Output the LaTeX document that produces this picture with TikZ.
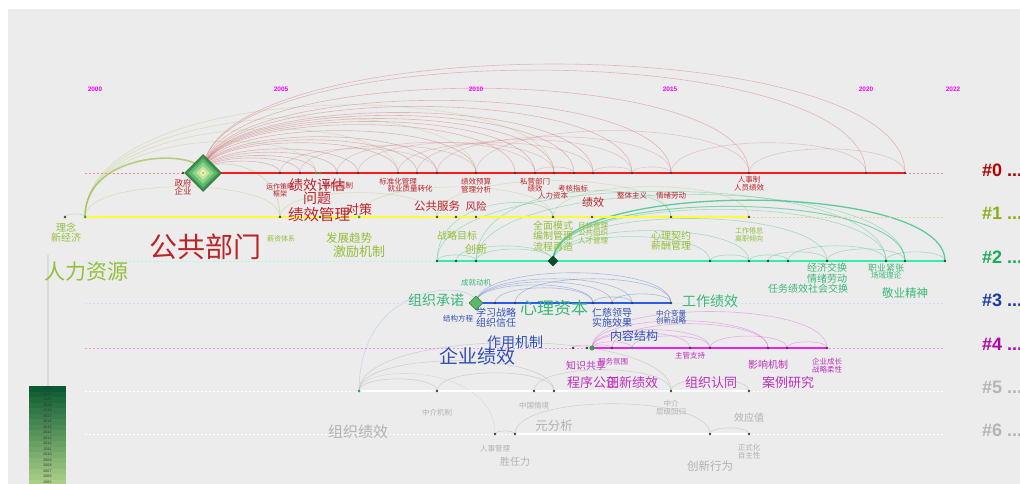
\documentclass[tikz,border=0pt]{standalone}
\usepackage{fontspec}
\setmainfont{Noto Sans CJK SC}
\newfontfamily\lib{Liberation Sans}
\usetikzlibrary{shapes.geometric,calc}
\definecolor{bg}{HTML}{ECECEC}
\definecolor{c0t}{HTML}{BC242A}
\definecolor{c1t}{HTML}{95BE3A}
\definecolor{c2t}{HTML}{3CB878}
\definecolor{c3t}{HTML}{3050B4}
\definecolor{c4t}{HTML}{C030C0}
\definecolor{c5t}{HTML}{B2B2B2}
\definecolor{r0}{HTML}{B00000}
\definecolor{r1}{HTML}{8AAE1A}
\definecolor{r2}{HTML}{1AAA5A}
\definecolor{r3}{HTML}{1A3AAA}
\definecolor{r4}{HTML}{B000B0}
\definecolor{r5}{HTML}{B4B4B4}
\definecolor{c0l}{HTML}{FF1A1A}
\definecolor{c1l}{HTML}{FFFF30}
\definecolor{c2l}{HTML}{30F0A8}
\definecolor{c3l}{HTML}{2A5CF0}
\definecolor{c4l}{HTML}{F020F0}
\definecolor{c0a}{HTML}{C02830}
\definecolor{c1a}{HTML}{A0C050}
\definecolor{c2a}{HTML}{30C080}
\definecolor{c3a}{HTML}{5070D0}
\definecolor{c4a}{HTML}{E050E0}
\definecolor{c5a}{HTML}{BEBEBE}
\definecolor{dotc}{HTML}{404040}
\definecolor{gdc}{HTML}{2EA050}
\definecolor{yr}{HTML}{FF00FF}
\definecolor{legdark}{HTML}{0B5A32}
\definecolor{leglight}{HTML}{D8F0A0}
\definecolor{dg1}{HTML}{3A8E4C}
\definecolor{dg2}{HTML}{5DB86A}
\definecolor{dg3}{HTML}{8FD08A}
\definecolor{dg4}{HTML}{C0E6A0}
\definecolor{dg5}{HTML}{E8F5B0}
\newcommand\fsz[1]{\fontsize{#1}{#1}\selectfont}
\newcommand\fszl[2]{\fontsize{#1}{#2}\selectfont}
\newcommand\lk[3][]{\draw[#1] let \p1=(#2), \p2=(#3), \n1={max(\y1,\y2)+0.207*abs(\x2-\x1)} in (\p1) .. controls (\x1,\n1) and (\x2,\n1) .. (\p2);}
\tikzset{
  lab/.style={inner sep=0pt, align=center},
  t0/.style={lab,text=c0t}, t1/.style={lab,text=c1t}, t2/.style={lab,text=c2t},
  t3/.style={lab,text=c3t}, t4/.style={lab,text=c4t}, t5/.style={lab,text=c5t},
  dotn/.style={circle, fill=dotc, inner sep=0pt, minimum size=2.6},
  gdot/.style={circle, fill=gdc, inner sep=0pt, minimum size=3},
  a0/.style={draw=c0a, draw opacity=.28, line width=.6},
  a1/.style={draw=c1a, draw opacity=.4, line width=.6},
  a2/.style={draw=c2a, draw opacity=.38, line width=.6},
  a3/.style={draw=c3a, draw opacity=.4, line width=.6},
  a4/.style={draw=c4a, draw opacity=.4, line width=.6},
  a5/.style={draw=c5a, draw opacity=.6, line width=.6},
  dl/.style={dash pattern=on 2pt off 2pt, line width=.6},
  rlab/.style={inner sep=0pt, anchor=west, font=\lib\bfseries\fsz{18}},
  yrlab/.style={inner sep=0pt, text=yr, font=\lib\bfseries\fsz{6.5}},
  dia/.style={diamond, aspect=1, inner sep=0pt},
}
\begin{document}
\begin{tikzpicture}[x=1pt,y=-1pt]
\useasboundingbox (0,0) rectangle (1020,484);
\fill[bg] (8,9) rectangle (1020,484);
% coordinates
\foreach \x in {183,203,280,300,316,320,337,358,398,417,437,476,515,535,554,574,593,632,671,749,866,905} \coordinate (p0-\x) at (\x,173);
\foreach \x in {65,85,280,320,359,437,456,476,553,592,671,749} \coordinate (p1-\x) at (\x,217);
\foreach \x in {437,456,476,553,710,749,768,788,827,886,905,945} \coordinate (p2-\x) at (\x,261);
\foreach \x in {476,495,515,593,612,632,671} \coordinate (p3-\x) at (\x,303);
\foreach \x in {573,587,592,612,632,690,710,768,787,827} \coordinate (p4-\x) at (\x,348);
\foreach \x in {359,437,534,554,671,749} \coordinate (p5-\x) at (\x,391);
\foreach \x in {495,515,710,749} \coordinate (p6-\x) at (\x,434);
\foreach \r/\y in {0/173,1/217,2/261,3/303,4/348,5/391,6/434} {\coordinate (L\r) at (85,\y); \coordinate (R\r) at (945,\y);}
\coordinate (vt) at (48,255); \coordinate (vb) at (48,386);
% legend stem
\draw[draw=black!14, line width=1.8] (vt) -- (vb);
% arcs row 0
\foreach \b in {280,300,316,337,358,398,417,437,476,515,535,554,574,593,632,671,749,866,905} {\lk[a0]{p0-203}{p0-\b}}
\foreach \a/\b in {280/437,300/476,337/535,358/554,398/593,417/632,437/671,476/749,593/632,671/866,749/905,632/671,535/574} {\lk[a0,draw opacity=.2]{p0-\a}{p0-\b}}
% arcs row 1 / cross
\lk[a1,line width=1.6,draw opacity=.7]{p1-85}{p0-203}
\foreach \b in {316,398,476,554} {\lk[a1,draw opacity=.3]{p1-85}{p0-\b}}
\lk[a1]{p1-65}{p1-85}
\lk[a1]{p0-203}{p1-280}
\foreach \a/\b in {280/437,359/553,437/671,553/749,320/359,85/280} {\lk[a1,draw opacity=.3]{p1-\a}{p1-\b}}
% arcs row 2
\lk[a2,line width=1.3,draw opacity=.75]{p2-553}{p2-945}
\lk[a2,line width=1,draw opacity=.55]{p2-553}{p2-905}
\foreach \b in {710,749,827,886} {\lk[a2]{p2-553}{p2-\b}}
\foreach \a/\b in {437/476,456/553,437/886,476/905,710/749,749/788,768/827,788/886,827/905,886/945,476/553} {\lk[a2]{p2-\a}{p2-\b}}
\lk[a2]{p2-437}{p1-553}
\lk[a2]{p2-476}{p1-671}
% arcs row 3
\foreach \b in {593,612,632,671} {\lk[a3]{p3-476}{p3-\b}}
\foreach \a/\b in {495/593,515/671,593/632,612/671} {\lk[a3]{p3-\a}{p3-\b}}
\lk[a3,draw opacity=.2]{p5-359}{p3-476}
% arcs row 4
\foreach \b in {612,632,690,710,768,827} {\lk[a4]{p4-592}{p4-\b}}
\foreach \a/\b in {632/710,710/787,787/827,612/768,573/592} {\lk[a4]{p4-\a}{p4-\b}}
% arcs rows 5 and 6
\foreach \b in {437,554,671} {\lk[a5]{p5-359}{p5-\b}}
\foreach \a/\b in {437/554,534/671,671/749} {\lk[a5]{p5-\a}{p5-\b}}
\foreach \a/\b in {495/515,515/710,710/749} {\lk[a5]{p6-\a}{p6-\b}}
\lk[a5,draw opacity=.35]{p6-495}{p5-359}
% dashed guide lines
\draw[dl, draw=c0l!50] (L0) -- (R0);
\draw[dl, draw=c1l!70!black!50] (L1) -- (R1);
\draw[dl, draw=c2l!40] (L2) -- (R2);
\draw[dl, draw=c3l!20] (L3) -- (R3);
\draw[dl, draw=c4l!50] (L4) -- (R4);
\draw[dl, draw=white] (L5) -- (R5);
\draw[dl, draw=white] (L6) -- (R6);
% timelines
\draw[line width=2, draw=c0l] (p0-203) -- (p0-905);
\draw[line width=2.4, draw=c1l] (p1-85) -- (p1-749);
\draw[line width=2.4, draw=c2l] (p2-437) -- (p2-945);
\draw[line width=2, draw=c3l] (p3-476) -- (p3-671);
\draw[line width=2, draw=c4l] (p4-592) -- (p4-827);
\draw[line width=2.4, draw=white] (p5-359) -- (p5-749);
\draw[line width=2.4, draw=white] (p6-515) -- (p6-749);
% dots
\foreach \x in {183,280,300,337,358,398,417,437,476,515,535,554,574,593,632,671,749,866,905} \node[dotn] at (p0-\x) {};
\foreach \x in {316,320} \node[gdot] at (p0-\x) {};
\foreach \x in {65,280,320,437,456,476,553,592,671,749} \node[dotn] at (p1-\x) {};
\foreach \x in {85,359} \node[gdot] at (p1-\x) {};
\foreach \x in {437,456,476,710,749,768,788,827,886,905,945} \node[dotn] at (p2-\x) {};
\foreach \x in {495,515,593,612,632,671} \node[dotn] at (p3-\x) {};
\foreach \x in {573,587,612,690,710,768,787,827} \node[dotn] at (p4-\x) {};
\node[gdot, minimum size=5] at (p4-592) {};
\node[gdot] at (p4-632) {};
\foreach \x in {437,534,554,671,749} \node[dotn] at (p5-\x) {};
\node[gdot] at (p5-359) {};
\foreach \x in {495,515,710,749} \node[dotn] at (p6-\x) {};
% diamonds
\node[dia, minimum size=37, fill=dg1, draw=dg1!70!black, line width=.5] (d0) at (p0-203) {};
\node[dia, minimum size=30, fill=dg2] (d0b) at (p0-203) {};
\node[dia, minimum size=22, fill=dg3] (d0c) at (p0-203) {};
\node[dia, minimum size=14, fill=dg4] (d0d) at (p0-203) {};
\node[dia, minimum size=7, fill=dg5] (d0e) at (p0-203) {};
\node[circle, fill=c0l, inner sep=0pt, minimum size=1.5] (d0f) at (p0-203) {};
\node[dia, minimum size=11, fill=legdark!85!black] (d2) at (p2-553) {};
\node[dia, minimum size=14, fill=dg2, draw=dg1, line width=.6] (d3) at (p3-476) {};
% year labels
\node[yrlab] (y00) at (95,89) {2000};
\node[yrlab] (y05) at (281,89) {2005};
\node[yrlab] (y10) at (476,89) {2010};
\node[yrlab] (y15) at (670,89) {2015};
\node[yrlab] (y20) at (866,89) {2020};
\node[yrlab] (y22) at (953,89) {2022};
% cluster labels right
\node[rlab, text=r0] (k0) at (982,170) {\#0 ...};
\node[rlab, text=r1] (k1) at (982,213) {\#1 ...};
\node[rlab, text=r2] (k2) at (982,257) {\#2 ...};
\node[rlab, text=r3] (k3) at (982,300) {\#3 ...};
\node[rlab, text=r4] (k4) at (982,344) {\#4 ...};
\node[rlab, text=r5] (k5) at (982,387) {\#5 ...};
\node[rlab, text=r5] (k6) at (982,430) {\#6 ...};
% legend bar
\foreach \i in {0,...,17} {
  \pgfmathtruncatemacro\pc{100-\i*100/22}
  \pgfmathtruncatemacro\yy{2022-\i}
  \fill[legdark!\pc!leglight] (29,{386+\i*5.5}) rectangle (66,{386+(\i+1)*5.5});
  \node[inner sep=0pt, font=\lib\fsz{3.6}, text=black!80] (leg\i) at (47.5,{386+\i*5.5+2.75}) {\yy};
}
% labels cluster 0
\node[t0, font=\fszl{8.5}{8}] (l01) at (183,187) {政府\\企业};
\node[t0, font=\fszl{7}{7}] (l02) at (280,190) {运作策略\\框架};
\node[t0, font=\fsz{14}] (l03) at (317,185) {绩效评估};
\node[t0, font=\fsz{14}] (l04) at (317,198) {问题};
\node[t0, font=\fsz{7.5}] (l05) at (338,186) {协同机制};
\node[t0, font=\fsz{7.5}] (l06) at (398,182) {标准化管理};
\node[t0, font=\fsz{7.5}] (l07) at (410,189) {就业质量转化};
\node[t0, font=\fszl{7.5}{8}] (l08) at (476,186) {绩效预算\\管理分析};
\node[t0, font=\fszl{7.5}{7}] (l09) at (535,185) {私营部门\\绩效};
\node[t0, font=\fsz{7.5}] (l10) at (553,196) {人力资本};
\node[t0, font=\fsz{7.5}] (l11) at (573,189) {考核指标};
\node[t0, font=\fsz{11}] (l12) at (593,202) {绩效};
\node[t0, font=\fsz{7.5}] (l13) at (632,196) {整体主义};
\node[t0, font=\fsz{7.5}] (l14) at (671,196) {情绪劳动};
\node[t0, font=\fszl{7.5}{8}] (l15) at (749,184) {人事制\\人员绩效};
\node[t0, font=\fsz{15.5}] (l16) at (319,215) {绩效管理};
\node[t0, font=\fsz{13}] (l17) at (359,210) {对策};
\node[t0, font=\fsz{11.5}] (l18) at (437,206) {公共服务};
\node[t0, font=\fsz{10.5}] (l19) at (476,206) {风险};
\node[t0, font=\fsz{28}] (l20) at (205,247) {公共部门};
% labels cluster 1
\node[t1, font=\fsz{10}] (m01) at (66,227) {理念};
\node[t1, font=\fsz{10}] (m02) at (66,238) {新经济};
\node[t1, font=\fsz{21}] (m03) at (86,272) {人力资源};
\node[t1, font=\fsz{7}] (m04) at (281,239) {薪资体系};
\node[t1, font=\fsz{11.5}] (m05) at (349,238) {发展趋势};
\node[t1, font=\fsz{13}] (m06) at (359,252) {激励机制};
\node[t1, font=\fsz{10}] (m07) at (457,236) {战略目标};
\node[t1, font=\fsz{11}] (m08) at (476,249) {创新};
\node[t1, font=\fszl{10}{10.5}] (m09) at (553,236) {全面模式\\编制管理\\流程再造};
\node[t1, font=\fszl{7.5}{7.5}] (m10) at (593,233) {目标管理\\公共组织\\人才管理};
\node[t1, font=\fszl{10}{10}] (m11) at (671,241) {心理契约\\薪酬管理};
\node[t1, font=\fszl{7}{8}] (m12) at (749,235) {工作倦怠\\离职倾向};
% labels cluster 2
\node[t2, font=\fsz{7.5}] (n01) at (476,283) {成就动机};
\node[t2, font=\fsz{14}] (n02) at (436,300) {组织承诺};
\node[t2, font=\fsz{17}] (n03) at (554,308) {心理资本};
\node[t2, font=\fsz{14}] (n04) at (710,301) {工作绩效};
\node[t2, font=\fsz{10}] (n05) at (827,268) {经济交换};
\node[t2, font=\fsz{10}] (n06) at (827,279) {情绪劳动};
\node[t2, font=\fsz{10}] (n07) at (808,289) {任务绩效社会交换};
\node[t2, font=\fsz{9}] (n08) at (886,268) {职业紧张};
\node[t2, font=\fsz{7.5}] (n09) at (886,276) {场域理论};
\node[t2, font=\fsz{11.5}] (n10) at (905,293) {敬业精神};
% labels cluster 3
\node[t3, font=\fsz{7.5}] (o01) at (458,319) {结构方程};
\node[t3, font=\fszl{10}{10}] (o02) at (496,318) {学习战略\\组织信任};
\node[t3, font=\fszl{10}{10}] (o03) at (612,318) {仁慈领导\\实施效果};
\node[t3, font=\fszl{7.5}{7.5}] (o04) at (671,317) {中介变量\\创新战略};
\node[t3, font=\fsz{14}] (o05) at (515,342) {作用机制};
\node[t3, font=\fsz{19}] (o06) at (477,356) {企业绩效};
\node[t3, font=\fsz{12}] (o07) at (634,336) {内容结构};
% labels cluster 4
\node[t4, font=\fsz{10}] (q01) at (586,366) {知识共享};
\node[t4, font=\fsz{7.5}] (q02) at (613,362) {服务氛围};
\node[t4, font=\fsz{7.5}] (q03) at (690,356) {主管支持};
\node[t4, font=\fsz{10}] (q04) at (768,365) {影响机制};
\node[t4, font=\fszl{7.5}{8}] (q05) at (827,366) {企业成长\\战略柔性};
\node[t4, font=\fsz{13}] (q06) at (593,383) {程序公正};
\node[t4, font=\fsz{13}] (q07) at (632,383) {创新绩效};
\node[t4, font=\fsz{13}] (q08) at (711,383) {组织认同};
\node[t4, font=\fsz{13}] (q09) at (788,383) {案例研究};
% labels clusters 5 and 6
\node[t5, font=\fsz{7.5}] (s01) at (437,413) {中介机制};
\node[t5, font=\fsz{7.5}] (s02) at (534,406) {中国情境};
\node[t5, font=\fszl{7.5}{8}] (s03) at (671,408) {中介\\层级回归};
\node[t5, font=\fsz{15}] (s04) at (358,432) {组织绩效};
\node[t5, font=\fsz{12.5}] (s05) at (554,426) {元分析};
\node[t5, font=\fsz{7.5}] (s06) at (495,449) {人事管理};
\node[t5, font=\fsz{10}] (s07) at (515,462) {胜任力};
\node[t5, font=\fsz{10}] (s08) at (749,418) {效应值};
\node[t5, font=\fszl{7.5}{8}] (s09) at (749,452) {正式化\\自主性};
\node[t5, font=\fsz{11.5}] (s10) at (710,466) {创新行为};
\end{tikzpicture}
\end{document}
